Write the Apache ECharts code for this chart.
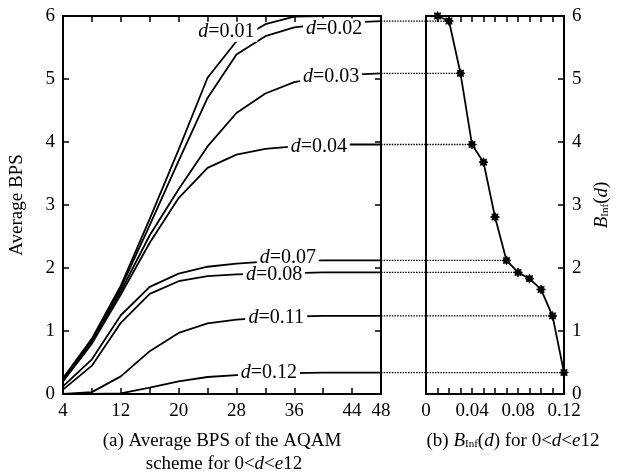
<!DOCTYPE html>
<html><head><meta charset="utf-8">
<script src="https://cdn.jsdelivr.net/npm/echarts@6/dist/echarts.min.js"></script>
<style>html,body{margin:0;padding:0;background:#fff}#c{width:620px;height:475px}</style>
</head><body><div id="c"></div>
<script>
// ---------- data ----------
const snr = [4, 8, 12, 16, 20, 24, 28, 32, 36, 40, 44, 48];
const curveNames = ['0.01', '0.02', '0.03', '0.04', '0.07', '0.08', '0.11', '0.12'];
const curveD = [0.01, 0.02, 0.03, 0.04, 0.07, 0.08, 0.11, 0.12];
const bps_d001 = [0.25, 0.88, 1.72, 2.78, 3.88, 5.02, 5.60, 5.87, 5.99, 6.00, 6.00, 6.00];
const bps_d002 = [0.24, 0.86, 1.68, 2.68, 3.70, 4.70, 5.39, 5.68, 5.82, 5.87, 5.90, 5.92];
const bps_d003 = [0.22, 0.84, 1.63, 2.52, 3.25, 3.93, 4.46, 4.77, 4.95, 5.03, 5.07, 5.09];
const bps_d004 = [0.20, 0.80, 1.58, 2.40, 3.11, 3.59, 3.80, 3.89, 3.93, 3.95, 3.96, 3.96];
const bps_d007 = [0.12, 0.55, 1.25, 1.70, 1.91, 2.02, 2.07, 2.10, 2.11, 2.12, 2.12, 2.12];
const bps_d008 = [0.07, 0.45, 1.13, 1.59, 1.79, 1.87, 1.90, 1.91, 1.92, 1.93, 1.93, 1.93];
const bps_d011 = [0.00, 0.03, 0.28, 0.68, 0.97, 1.12, 1.18, 1.21, 1.23, 1.24, 1.24, 1.24];
const bps_d012 = [0.00, 0.00, 0.01, 0.10, 0.20, 0.27, 0.30, 0.32, 0.33, 0.34, 0.34, 0.34];
const dValues = [0.01, 0.02, 0.03, 0.04, 0.05, 0.06, 0.07, 0.08, 0.09, 0.10, 0.11, 0.12];
const bInf = [6.00, 5.92, 5.09, 3.96, 3.68, 2.81, 2.12, 1.93, 1.83, 1.66, 1.24, 0.34];
const snrTickLabels = [4, 12, 20, 28, 36, 44, 48];
const dTickLabels = [0, 0.04, 0.08, 0.12];
const bpsTicks = [0, 1, 2, 3, 4, 5, 6];
// label anchor positions (data space) for curve tags
const labelAnchor = [[26.6, 5.75], [41.5, 5.80], [41.1, 5.03], [39.4, 3.93], [35.1, 2.16], [33.2, 1.90], [33.5, 1.21], [32.5, 0.33]];

// ---------- layout ----------
const FONT = "'Liberation Serif','Times New Roman',serif";
const G0 = {left: 59, top: 16, width: 322, height: 378};
const G1 = {left: 426, top: 16, width: 138, height: 378};
const G2 = {left: G0.left + G0.width, top: 16, width: G1.left + G1.width - (G0.left + G0.width), height: 378};
const dMax = 0.12;
const overlayMin = -(G1.left - G2.left) / G1.width * dMax;

const curves = [bps_d001, bps_d002, bps_d003, bps_d004, bps_d007, bps_d008, bps_d011, bps_d012];

// star marker path
let sp = [];
for (let i = 0; i < 16; i++) {
  const r = i % 2 ? 6 : 10;
  const a = i * Math.PI / 8 - Math.PI / 2;
  sp.push((i ? 'L' : 'M') + (r * Math.cos(a)).toFixed(2) + ' ' + (r * Math.sin(a)).toFixed(2));
}
const starPath = 'path://' + sp.join(' ') + ' Z';

const axisLine = {show: true, onZero: false, lineStyle: {color: '#000', width: 2}};
const tickIn = {show: true, inside: true, length: 6, lineStyle: {color: '#000', width: 1.5}};
const labStyle = {color: '#000', fontFamily: FONT, fontSize: 19};
const near = (a, b) => Math.abs(a - b) < 1e-9;

const series = [];
curves.forEach((vals, k) => {
  series.push({
    type: 'line', xAxisIndex: 0, yAxisIndex: 0, symbol: 'none', silent: true,
    lineStyle: {color: '#000', width: 1.8},
    data: snr.map((x, i) => [x, vals[i]]),
    z: 2
  });
});
// curve tags (white box symbol hides the curve behind the tag)
series.push({
  type: 'scatter', xAxisIndex: 0, yAxisIndex: 0, symbol: 'rect', symbolSize: [62, 20], silent: true,
  itemStyle: {color: '#fff', opacity: 1}, z: 10,
  labelLayout: {hideOverlap: false},
  data: labelAnchor.map((p, k) => ({value: p, name: curveNames[k]})),
  label: {
    show: true, position: 'inside', color: '#000', opacity: 1, fontFamily: FONT, fontSize: 20,
    formatter: p => '{i|d}=' + p.name,
    rich: {i: {fontStyle: 'italic', fontFamily: FONT, fontSize: 20, color: '#000'}}
  }
});
// dotted guide lines
curveD.forEach((d, k) => {
  const idx = dValues.findIndex(v => near(v, d));
  if (k === 0) return;
  const v = bInf[idx];
  series.push({
    type: 'line', xAxisIndex: 4, yAxisIndex: 4, symbol: 'none', silent: true,
    lineStyle: {color: '#000', width: 1.3, type: [1.5, 1.2]},
    data: [[overlayMin, v], [d, v]], z: 1
  });
});
// B_Inf(d)
series.push({
  type: 'line', xAxisIndex: 2, yAxisIndex: 3, symbol: starPath, symbolSize: 9, silent: true,
  lineStyle: {color: '#000', width: 1.8}, itemStyle: {color: '#000', borderColor: '#000', borderWidth: 0.8},
  data: dValues.map((d, i) => [d, bInf[i]]), z: 5, clip: false
});

const option = {
  animation: false,
  backgroundColor: '#fff',
  grid: [G0, G1, G2].map(g => Object.assign({containLabel: false}, g)),
  xAxis: [
    {gridIndex: 0, type: 'value', position: 'bottom', min: 4, max: 48, interval: 4,
      axisLine, axisTick: tickIn, splitLine: {show: false},
      axisLabel: Object.assign({}, labStyle, {margin: 8, interval: 0, showMaxLabel: true, showMinLabel: true,
        formatter: v => snrTickLabels.some(t => near(t, v)) ? String(v) : ''})},
    {gridIndex: 0, type: 'value', position: 'top', min: 4, max: 48, interval: 4,
      axisLine, axisTick: tickIn, axisLabel: {show: false}, splitLine: {show: false}},
    {gridIndex: 1, type: 'value', position: 'bottom', min: 0, max: dMax, interval: 0.01,
      axisLine, axisTick: tickIn, splitLine: {show: false},
      axisLabel: Object.assign({}, labStyle, {margin: 8, interval: 0, showMaxLabel: true, showMinLabel: true,
        formatter: v => { const t = dTickLabels.find(t => Math.abs(t - v) < 1e-6); return t === undefined ? '' : (t === 0 ? '0' : t.toFixed(2)); }})},
    {gridIndex: 1, type: 'value', position: 'top', min: 0, max: dMax, interval: 0.01,
      axisLine, axisTick: tickIn, axisLabel: {show: false}, splitLine: {show: false}},
    {gridIndex: 2, type: 'value', min: overlayMin, max: dMax, show: false}
  ],
  yAxis: [
    {gridIndex: 0, type: 'value', position: 'left', min: 0, max: 6, interval: 1,
      axisLine, axisTick: tickIn, splitLine: {show: false},
      axisLabel: Object.assign({}, labStyle, {margin: 8, formatter: v => bpsTicks.includes(v) ? String(v) : ''}),
      name: 'Average BPS', nameLocation: 'middle', nameGap: 36, nameRotate: 90,
      nameTextStyle: {color: '#000', fontFamily: FONT, fontSize: 19}},
    {gridIndex: 0, type: 'value', position: 'right', min: 0, max: 6, interval: 1,
      axisLine, axisTick: tickIn, axisLabel: {show: false}, splitLine: {show: false}},
    {gridIndex: 1, type: 'value', position: 'left', min: 0, max: 6, interval: 1,
      axisLine, axisTick: {show: false}, axisLabel: {show: false}, splitLine: {show: false}},
    {gridIndex: 1, type: 'value', position: 'right', min: 0, max: 6, interval: 1,
      axisLine, axisTick: tickIn, splitLine: {show: false},
      axisLabel: Object.assign({}, labStyle, {margin: 8, formatter: v => bpsTicks.includes(v) ? String(v) : ''}),
      name: '{b|B}{s|Inf}({i|d})', nameLocation: 'middle', nameGap: 28, nameRotate: 90,
      nameTextStyle: {color: '#000', fontFamily: FONT, fontSize: 19,
        rich: {
          b: {fontStyle: 'italic', fontFamily: FONT, fontSize: 19, color: '#000'},
          s: {fontFamily: FONT, fontSize: 11, color: '#000', padding: [7, 0, 0, 0]},
          i: {fontStyle: 'italic', fontFamily: FONT, fontSize: 19, color: '#000'}
        }}},
    {gridIndex: 2, type: 'value', min: 0, max: 6, show: false}
  ],
  graphic: [
    {type: 'text', x: 222, y: 441, style: {text: '(a) Average BPS of the AQAM', fill: '#000',
      font: '19px ' + FONT, textAlign: 'center', textVerticalAlign: 'middle'}},
    {type: 'text', x: 224, y: 464, style: {text: 'scheme for 0<{i|d}<{i|e}12', fill: '#000',
      font: '19px ' + FONT, textAlign: 'center', textVerticalAlign: 'middle',
      rich: {i: {fontStyle: 'italic', fontFamily: FONT, fontSize: 19, fill: '#000'}}}},
    {type: 'text', x: 513, y: 441, style: {text: '(b) {b|B}{s|Inf}({i|d}) for 0<{i|d}<{i|e}12', fill: '#000',
      font: '19px ' + FONT, textAlign: 'center', textVerticalAlign: 'middle',
      rich: {
        b: {fontStyle: 'italic', fontFamily: FONT, fontSize: 19, fill: '#000'},
        s: {fontFamily: FONT, fontSize: 11, fill: '#000', padding: [7, 0, 0, 0]},
        i: {fontStyle: 'italic', fontFamily: FONT, fontSize: 19, fill: '#000'}
      }}}
  ],
  series
};
const chart = echarts.init(document.getElementById('c'), null, {renderer: 'canvas'});
chart.setOption(option);
</script></body></html>
